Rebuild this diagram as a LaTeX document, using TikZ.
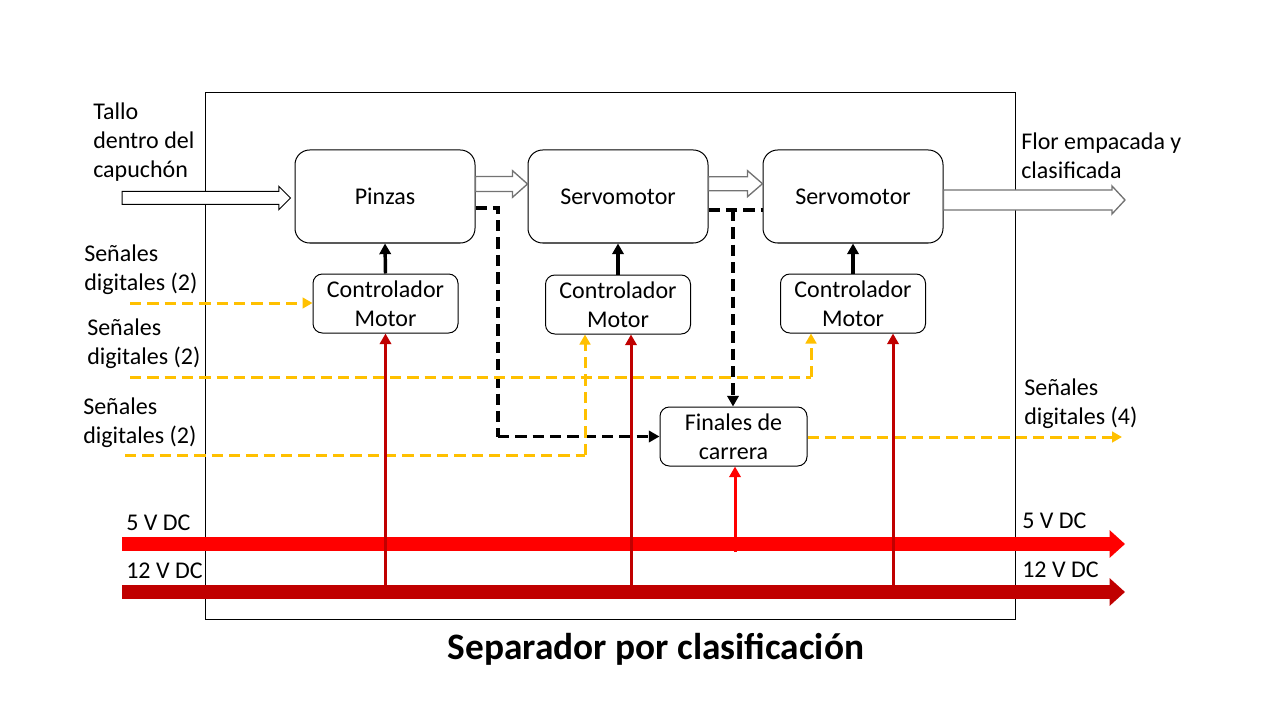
\documentclass[tikz,border=0pt]{standalone}
\usepackage{fontspec}
\setmainfont{Carlito}
\usetikzlibrary{arrows.meta,calc}
\definecolor{ylw}{HTML}{FFC000}
\definecolor{dred}{HTML}{C00000}
\definecolor{bred}{HTML}{FF0000}
\newcommand\myblockarr[6]{%
  \draw[#1] let \p1=(#2), \p2=(#3) in
    (\x1,{\y1+#4*0.75pt}) -- ({\x2-#6*0.75pt},{\y1+#4*0.75pt}) -- ({\x2-#6*0.75pt},{\y1+#5*0.75pt})
    -- (\x2,\y1) -- ({\x2-#6*0.75pt},{\y1-#5*0.75pt}) -- ({\x2-#6*0.75pt},{\y1-#4*0.75pt})
    -- (\x1,{\y1-#4*0.75pt}) -- cycle;}
\begin{document}
\begin{tikzpicture}[x=0.75pt,y=-0.75pt,
  font=\fontsize{18}{21.6}\selectfont,
  blk/.style={draw, rounded corners=11pt, line width=0.75pt, minimum width=135pt, minimum height=69.75pt, align=center, inner sep=0pt},
  ctl/.style={draw, rounded corners=7pt, line width=0.75pt, minimum width=108.75pt, minimum height=44.25pt, align=center, inner sep=0pt},
  lbl/.style={anchor=west, align=left, inner sep=0pt},
  hollow/.style={draw=black, line width=0.75pt, fill=white},
  hollowgray/.style={draw=black!55, line width=1pt, fill=white},
  ctrlarrow/.style={draw=black, line width=2.6pt, -{Triangle[length=8pt,width=8.5pt]}},
  ydash/.style={draw=ylw, line width=2.25pt, dash pattern=on 8.5pt off 4.5pt},
  ytip/.style={-{Triangle[length=7.5pt,width=8pt]}},
  bdash/.style={draw=black, line width=2.8pt, dash pattern=on 8.5pt off 4.5pt},
  btip/.style={-{Triangle[length=8pt,width=8.5pt]}},
  feed/.style={draw=dred, line width=2.25pt, -{Triangle[length=8pt,width=8.5pt]}},
  feed5/.style={draw=bred, line width=2.25pt, -{Triangle[length=8pt,width=8.5pt]}},
  bus/.style={line width=10pt, -{Triangle[length=11.5pt,width=20pt]}}
]
\useasboundingbox (0,0) rectangle (1280,720);

% outer frame
\node[draw, line width=0.75pt, minimum width=607.5pt, minimum height=394.5pt, inner sep=0pt] (frame) at (610,356) {};

% blocks
\node[blk] (pinzas) at (385,196.5) {Pinzas};
\node[blk] (servo1) at (618,196.5) {Servomotor};
\node[blk] (servo2) at (853,196.5) {Servomotor};
\node[ctl] (cm1) at (385.5,303.5) {Controlador\\Motor};
\node[ctl] (cm2) at (618,304.5) {Controlador\\Motor};
\node[ctl] (cm3) at (853,303.5) {Controlador\\Motor};
\node[ctl, minimum width=110.25pt] (fin) at (733.5,436.5) {Finales de\\carrera};

% labels
\node[lbl] (ltallo) at (93,142) {Tallo\\dentro del\\capuchón};
\node[lbl] (lflor) at (1021,156) {Flor empacada y\\clasificada};
\node[lbl] (ls1) at (84,269.5) {Señales\\digitales (2)};
\node[lbl] (ls2) at (87,344) {Señales\\digitales (2)};
\node[lbl] (ls3) at (83,423) {Señales\\digitales (2)};
\node[lbl] (ls4) at (1024,403.5) {Señales\\digitales (4)};
\node[lbl] (l5a) at (126,523) {5 V DC};
\node[lbl] (l12a) at (126,571) {12 V DC};
\node[lbl] (l5b) at (1022,521) {5 V DC};
\node[lbl] (l12b) at (1022,570) {12 V DC};
\node[font=\fontsize{28}{32}\selectfont\bfseries] (title) at (656,649) {Separador por clasificación};

% hollow block arrows
\coordinate (in1) at (122,198);
\coordinate (out1) at (1125,200);
\myblockarr{hollow}{in1}{$(pinzas.west)+(-4,1.5)$}{6.5}{11.7}{11.7}
\myblockarr{hollowgray}{$(pinzas.east)+(0,-12.5)$}{$(servo1.west)+(0,-12.5)$}{7.5}{13.3}{15}
\myblockarr{hollowgray}{$(servo1.east)+(0,-12.8)$}{$(servo2.west)+(0,-12.8)$}{7}{13}{15}
\myblockarr{hollowgray}{$(servo2.east)+(0,3.5)$}{out1}{10}{14}{13}

% controller to actuator arrows
\draw[ctrlarrow] (cm1.north) -- (pinzas.south);
\draw[ctrlarrow] (cm2.north) -- (servo1.south);
\draw[ctrlarrow] (cm3.north) -- (servo2.south);

% black dashed (end stops)
\coordinate (d1) at (498,208);
\draw[bdash] (d1 -| pinzas.east) -- (d1) -- (d1 |- fin.west);
\draw[bdash, btip] (d1 |- fin.west) -- (fin.west);
\coordinate (d2) at (733,210);
\draw[bdash] (d2 -| servo1.east) -- (d2 -| servo2.west);
\draw[bdash, btip] (d2) -- (d2 |- fin.north);

% yellow dashed signals
\coordinate (y1s) at (130,303);
\draw[ydash, ytip] (y1s) -- (y1s -| cm1.west);
\coordinate (y2s) at (130,377);
\coordinate (y2c) at (811,377);
\draw[ydash] (y2s) -- (y2c);
\draw[ydash, ytip] (y2c) -- (y2c |- cm3.south);
\coordinate (y3s) at (125,455);
\coordinate (y3c) at (585,455);
\draw[ydash] (y3s) -- (y3c);
\draw[ydash, ytip] (y3c) -- (y3c |- cm2.south);
\coordinate (y4e) at (1122,437);
\draw[ydash, ytip] (fin.east |- y4e) -- (y4e);

% power buses
\coordinate (b5s) at (122,544);
\coordinate (b5e) at (1125,544);
\coordinate (b12s) at (122,592);
\coordinate (b12e) at (1125,592);
\draw[bus, draw=bred, fill=bred] (b5s) -- (b5e);
\draw[bus, draw=dred, fill=dred] (b12s) -- (b12e);

% power feeds
\draw[feed] (cm1.south |- b12s) -- (cm1.south);
\coordinate (r2) at (631,592);
\draw[feed] (r2) -- (r2 |- cm2.south);
\coordinate (r3) at (893,592);
\draw[feed] (r3) -- (r3 |- cm3.south);
\coordinate (r5) at (735,552);
\draw[feed5] (r5) -- (r5 |- fin.south);
\end{tikzpicture}
\end{document}
